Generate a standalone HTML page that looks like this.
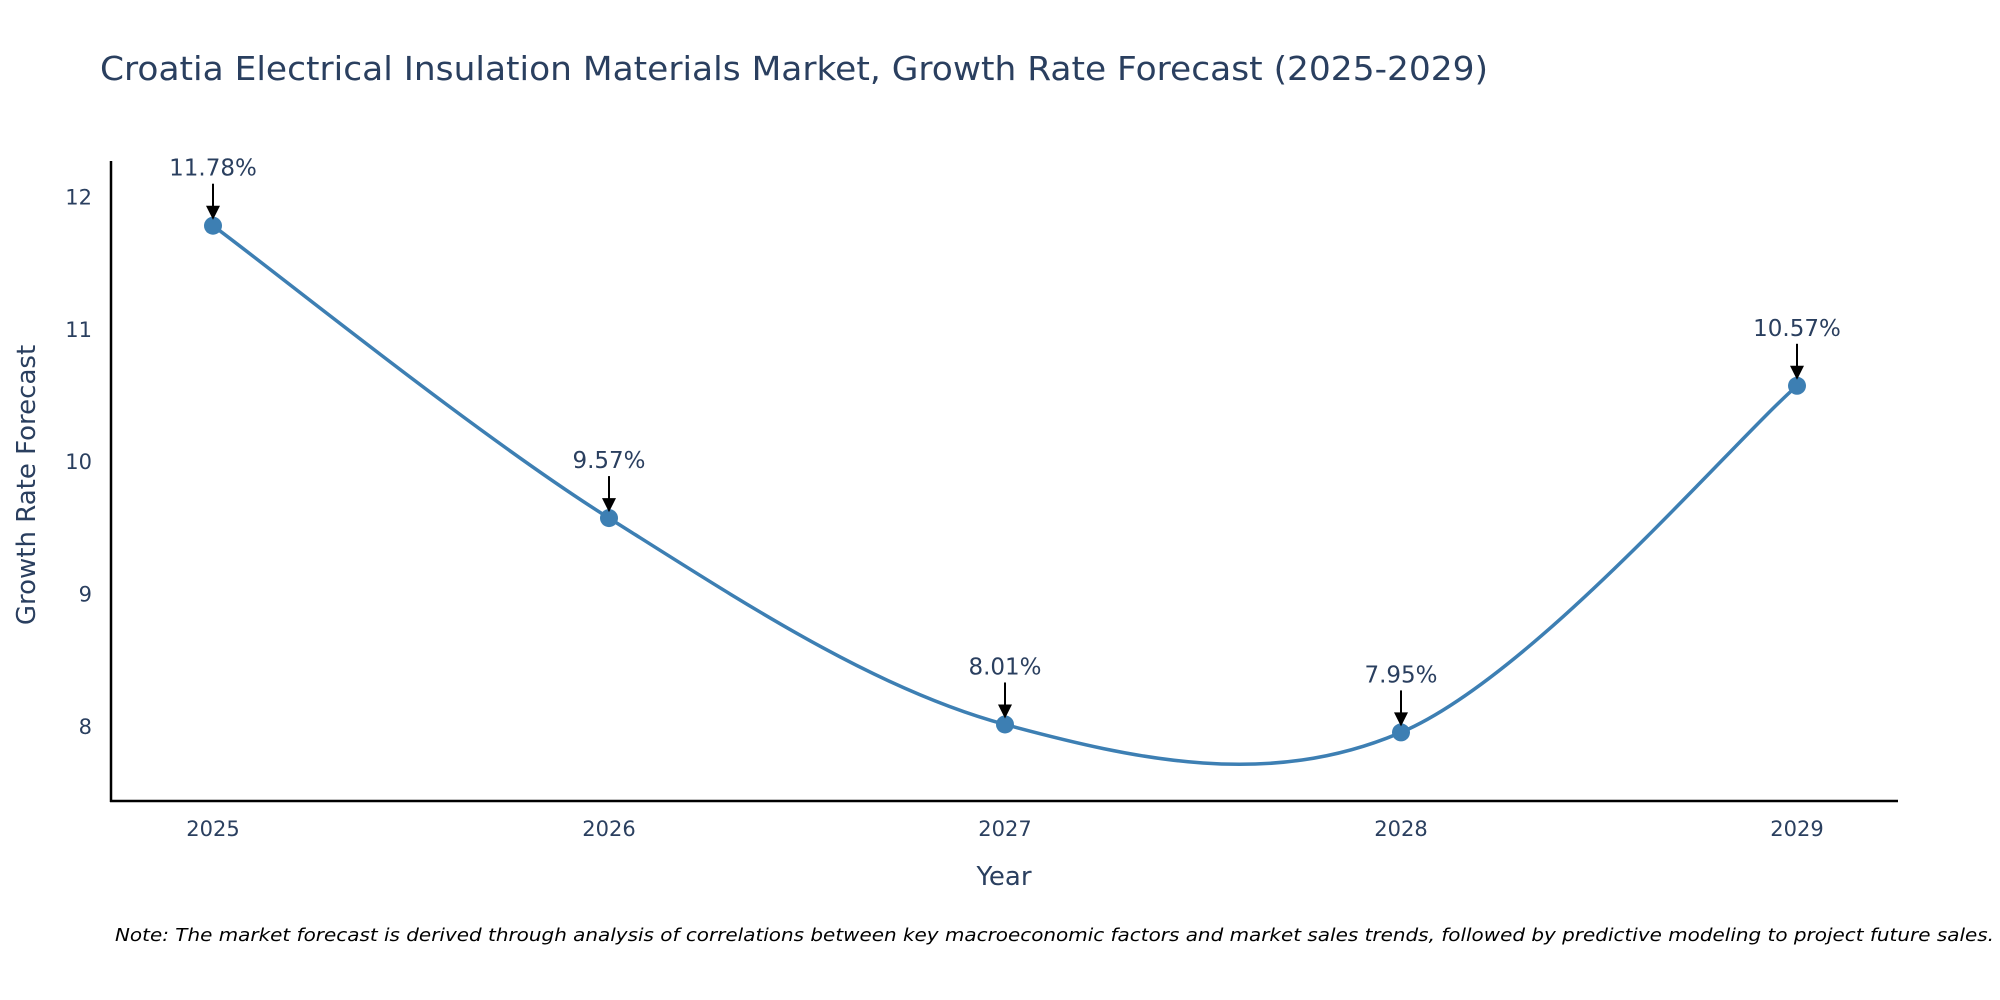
<!DOCTYPE html>
<html><head><meta charset="utf-8"><style>
html,body{margin:0;padding:0;background:#fff;}
svg{display:block;font-family:"DejaVu Sans","Liberation Sans",sans-serif;}
</style></head><body>
<svg id="chart" width="2000" height="1000" viewBox="0 0 2000 1000">
<text x="100" y="80" font-size="33" fill="#2a3f5f" textLength="1388" lengthAdjust="spacingAndGlyphs">Croatia Electrical Insulation Materials Market, Growth Rate Forecast (2025-2029)</text>
<g id="yticks"></g><g id="xticks"></g>
<line x1="111" y1="161" x2="111" y2="802" stroke="#000" stroke-width="2.5"/>
<line x1="110" y1="801" x2="1898" y2="801" stroke="#000" stroke-width="2.5"/>
<path id="line" fill="none" stroke="#3d7fb3" stroke-width="3.5"/>
<g id="marks"></g>
<text x="1004" y="885" font-size="26" fill="#2a3f5f" text-anchor="middle">Year</text>
<text transform="translate(35,485) rotate(-90)" font-size="26" fill="#2a3f5f" text-anchor="middle">Growth Rate Forecast</text>
<text x="115" y="941" font-size="18" font-style="italic" fill="#000" textLength="1879" lengthAdjust="spacingAndGlyphs">Note: The market forecast is derived through analysis of correlations between key macroeconomic factors and market sales trends, followed by predictive modeling to project future sales.</text>
</svg>
<script>
const years = ["2025","2026","2027","2028","2029"];
const values = [11.78, 9.57, 8.01, 7.95, 10.57];
const yTicks = [8, 9, 10, 11, 12];
const NS = "http://www.w3.org/2000/svg";
function xS(i){return 213 + i*396;}
function yS(v){return 725.8 - (v-8)*132.3;}
const yg = document.getElementById('yticks'), xg = document.getElementById('xticks'), mg = document.getElementById('marks');
yTicks.forEach(t=>{
  const e=document.createElementNS(NS,'text');
  
  
  e.setAttribute('x',92);e.setAttribute('y',yS(t)+8);e.setAttribute('text-anchor','end');
  e.setAttribute('font-size','21');e.setAttribute('fill','#2a3f5f');e.textContent=t;yg.appendChild(e);
});
years.forEach((y,i)=>{
  const e=document.createElementNS(NS,'text');
  
  
  e.setAttribute('x',xS(i));e.setAttribute('y',836);e.setAttribute('text-anchor','middle');
  e.setAttribute('font-size','21');e.setAttribute('fill','#2a3f5f');e.textContent=y;xg.appendChild(e);
});
const pts = values.map((v,i)=>[xS(i),yS(v)]);
let d = `M${pts[0][0]},${pts[0][1]}`;
for(let i=0;i<pts.length-1;i++){
  const p0=pts[Math.max(0,i-1)],p1=pts[i],p2=pts[i+1],p3=pts[Math.min(pts.length-1,i+2)];
  const k=1/6;
  const c1=[p1[0]+(p2[0]-p0[0])*k,p1[1]+(p2[1]-p0[1])*k];
  const c2=[p2[0]-(p3[0]-p1[0])*k,p2[1]-(p3[1]-p1[1])*k];
  d+=` C${c1[0]},${c1[1]} ${c2[0]},${c2[1]} ${p2[0]},${p2[1]}`;
}
document.getElementById('line').setAttribute('d',d);
values.forEach((v,i)=>{
  const x=xS(i), y=yS(v);
  const c=document.createElementNS(NS,'circle');
  
  
  c.setAttribute('cx',x);c.setAttribute('cy',y);c.setAttribute('r',9);c.setAttribute('fill','#3d7fb3');mg.appendChild(c);
  const l=document.createElementNS(NS,'line');
  
  
  l.setAttribute('x1',x);l.setAttribute('y1',y-42);l.setAttribute('x2',x);l.setAttribute('y2',y-16);
  l.setAttribute('stroke','#000');l.setAttribute('stroke-width','2');mg.appendChild(l);
  const a=document.createElementNS(NS,'path');
  
  
  a.setAttribute('d',`M${x-7},${y-20} L${x+7},${y-20} L${x},${y-6} Z`);a.setAttribute('fill','#000');mg.appendChild(a);
  const t=document.createElementNS(NS,'text');
  
  
  t.setAttribute('x',x);t.setAttribute('y',y-50);t.setAttribute('text-anchor','middle');
  t.setAttribute('font-size','23');t.setAttribute('fill','#2a3f5f');t.textContent=v.toFixed(2)+'%';mg.appendChild(t);
});
</script>
</body></html>
